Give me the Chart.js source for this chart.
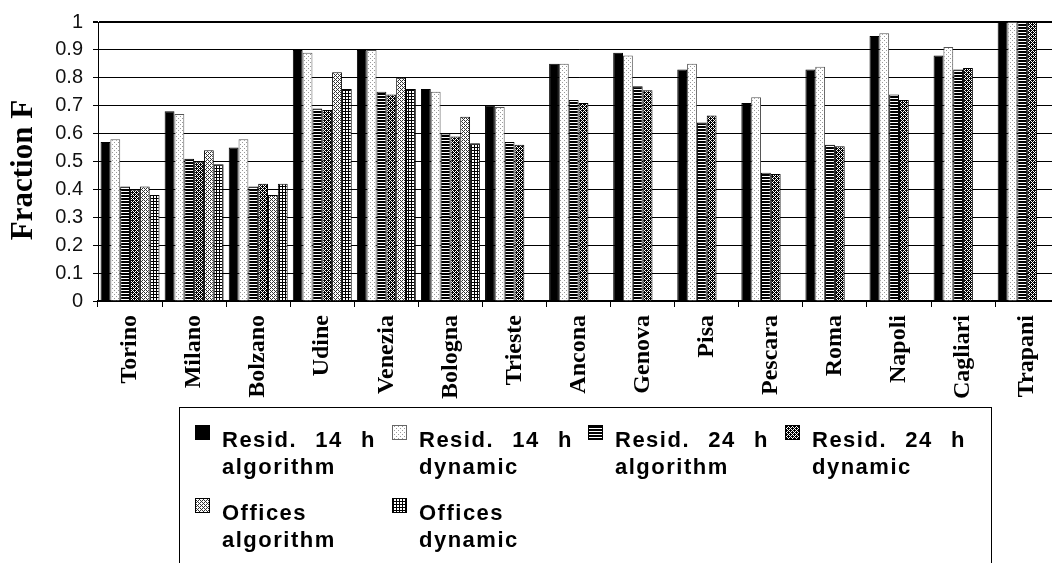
<!DOCTYPE html>
<html>
<head>
<meta charset="utf-8">
<script src="https://cdn.jsdelivr.net/npm/chart.js@4.4.1/dist/chart.umd.min.js"></script>
<style>
  html, body { margin: 0; padding: 0; overflow: hidden; background: #fff; }
  #wrap { position: relative; width: 1064px; height: 563px; }
</style>
</head>
<body>
<div id="wrap"><canvas id="c" width="1064" height="563"></canvas></div>
<script>
// Cities on the category axis
const cities = ['Torino', 'Milano', 'Bolzano', 'Udine', 'Venezia', 'Bologna', 'Trieste',
  'Ancona', 'Genova', 'Pisa', 'Pescara', 'Roma', 'Napoli', 'Cagliari', 'Trapani'];

// Fraction F per city and case
const resid14Algorithm = [0.57, 0.68, 0.55, 0.90, 0.90, 0.76, 0.70, 0.85, 0.89, 0.83, 0.71, 0.83, 0.95, 0.88, 1.00];
const resid14Dynamic   = [0.58, 0.67, 0.58, 0.89, 0.90, 0.75, 0.695, 0.85, 0.88, 0.85, 0.73, 0.84, 0.96, 0.91, 1.00];
const resid24Algorithm = [0.41, 0.51, 0.41, 0.69, 0.75, 0.60, 0.57, 0.72, 0.77, 0.64, 0.46, 0.56, 0.74, 0.83, 1.00];
const resid24Dynamic   = [0.40, 0.50, 0.42, 0.685, 0.74, 0.59, 0.56, 0.71, 0.755, 0.665, 0.455, 0.555, 0.72, 0.835, 1.00];
const officesAlgorithm = [0.41, 0.54, 0.38, 0.82, 0.80, 0.66, null, null, null, null, null, null, null, null, null];
const officesDynamic   = [0.38, 0.49, 0.42, 0.76, 0.76, 0.565, null, null, null, null, null, null, null, null, null];

const seriesLabels = ['Resid. 14 h algorithm', 'Resid. 14 h dynamic', 'Resid. 24 h algorithm',
  'Resid. 24 h dynamic', 'Offices algorithm', 'Offices dynamic'];
const yTickLabels = ['0', '0.1', '0.2', '0.3', '0.4', '0.5', '0.6', '0.7', '0.8', '0.9', '1'];
const yTitle = 'Fraction F';

const seriesValues = [resid14Algorithm, resid14Dynamic, resid24Algorithm, resid24Dynamic, officesAlgorithm, officesDynamic];

// Monochrome fill patterns built from small pixel maps ('1' = ink)
function makePattern(rows, ink, paper) {
  const t = document.createElement('canvas');
  t.width = rows[0].length; t.height = rows.length;
  const g = t.getContext('2d');
  g.fillStyle = paper; g.fillRect(0, 0, t.width, t.height);
  g.fillStyle = ink;
  rows.forEach((r, y) => { for (let x = 0; x < r.length; x++) if (r[x] === '1') g.fillRect(x, y, 1, 1); });
  return document.getElementById('c').getContext('2d').createPattern(t, 'repeat');
}

const fills = [
  '#000000',
  makePattern(['1000', '0000', '0010', '0000'], '#9a9a9a', '#ffffff'),
  makePattern(['1', '1', '0'], '#000000', '#ffffff'),
  makePattern(['1101', '1010', '0111', '1010'], '#000000', '#ffffff'),
  makePattern(['1010', '0100', '1010', '0001'], '#333333', '#ffffff'),
  makePattern(['111', '100', '100'], '#000000', '#ffffff')
];

// Axis title and the boxed legend below the plot
const decorations = {
  id: 'decorations',
  afterDraw(chart) {
    const ctx = chart.ctx;
    ctx.save();
    ctx.translate(24, 170);
    ctx.rotate(-Math.PI / 2);
    ctx.font = 'bold 31px "Liberation Serif"';
    ctx.textAlign = 'center';
    ctx.textBaseline = 'middle';
    ctx.fillStyle = '#000';
    ctx.fillText(yTitle, 0, 0);
    ctx.restore();

    ctx.save();
    ctx.strokeStyle = '#000';
    ctx.lineWidth = 1;
    ctx.strokeRect(179.5, 407.5, 812, 220);

    ctx.font = 'bold 22px "Liberation Sans"';
    ctx.letterSpacing = '1.5px';
    ctx.textBaseline = 'middle';
    ctx.textAlign = 'left';
    const colPitch = 196.7, rowPitch = 73, lineGap = 27, justifyWidth = 154;
    seriesLabels.forEach((label, i) => {
      const col = i % 4, row = Math.floor(i / 4);
      const sx = Math.round(195 + col * colPitch), sy = 425 + row * rowPitch;
      ctx.fillStyle = fills[i];
      ctx.fillRect(sx, sy, 15, 15);
      ctx.strokeStyle = i === 1 ? '#666' : '#000';
      ctx.strokeRect(sx + 0.5, sy + 0.5, 14, 14);

      const words = label.split(' ');
      const lines = [words.slice(0, -1).join(' '), words[words.length - 1]];
      const tx = sx + 27, ty = sy + 16;
      ctx.fillStyle = '#000';
      // first line is justified across the column, last line set flush left
      const w1 = lines[0].split(' ');
      if (w1.length > 1) {
        const widths = w1.map(w => ctx.measureText(w).width);
        const gap = (justifyWidth - widths.reduce((a, b) => a + b, 0)) / (w1.length - 1);
        let x = tx;
        w1.forEach((w, k) => { ctx.fillText(w, x, ty); x += widths[k] + gap; });
      } else {
        ctx.fillText(lines[0], tx, ty);
      }
      ctx.fillText(lines[1], tx, ty + lineGap);
    });
    ctx.restore();
  }
};

new Chart(document.getElementById('c'), {
  type: 'bar',
  data: {
    labels: cities,
    datasets: seriesValues.map((vals, i) => ({
      label: seriesLabels[i],
      data: vals,
      backgroundColor: fills[i],
      borderColor: i === 1 ? '#555' : '#000',
      borderWidth: 1,
      borderSkipped: 'start',
      categoryPercentage: 0.92,
      barPercentage: 1.0
    }))
  },
  options: {
    responsive: false,
    animation: false,
    devicePixelRatio: 1,
    layout: { padding: { top: 18, left: 0, right: 2, bottom: 0 } },
    plugins: { legend: { display: false }, tooltip: { enabled: false } },
    scales: {
      x: {
        offset: true,
        grid: { offset: true, drawOnChartArea: false, drawTicks: true, tickLength: 6, color: '#000' },
        border: { color: '#000', width: 2 },
        ticks: {
          minRotation: 90, maxRotation: 90, autoSkip: false, padding: 8, color: '#000',
          font: { family: '"Liberation Serif"', weight: 'bold', size: 24 }
        },
        afterFit(s) { s.height = 262; }
      },
      y: {
        min: 0, max: 1,
        ticks: {
          stepSize: 0.1, padding: 10, color: '#111',
          font: { family: '"Liberation Sans"', size: 20 },
          callback: (v, i) => yTickLabels[i]
        },
        grid: { color: '#000', lineWidth: c => (c.tick && c.tick.value === 1 ? 2 : 1), tickLength: 5 },
        border: { color: '#000', width: 1 },
        afterFit(s) { s.width = 98; }
      }
    }
  },
  plugins: [decorations]
});
</script>
</body>
</html>
